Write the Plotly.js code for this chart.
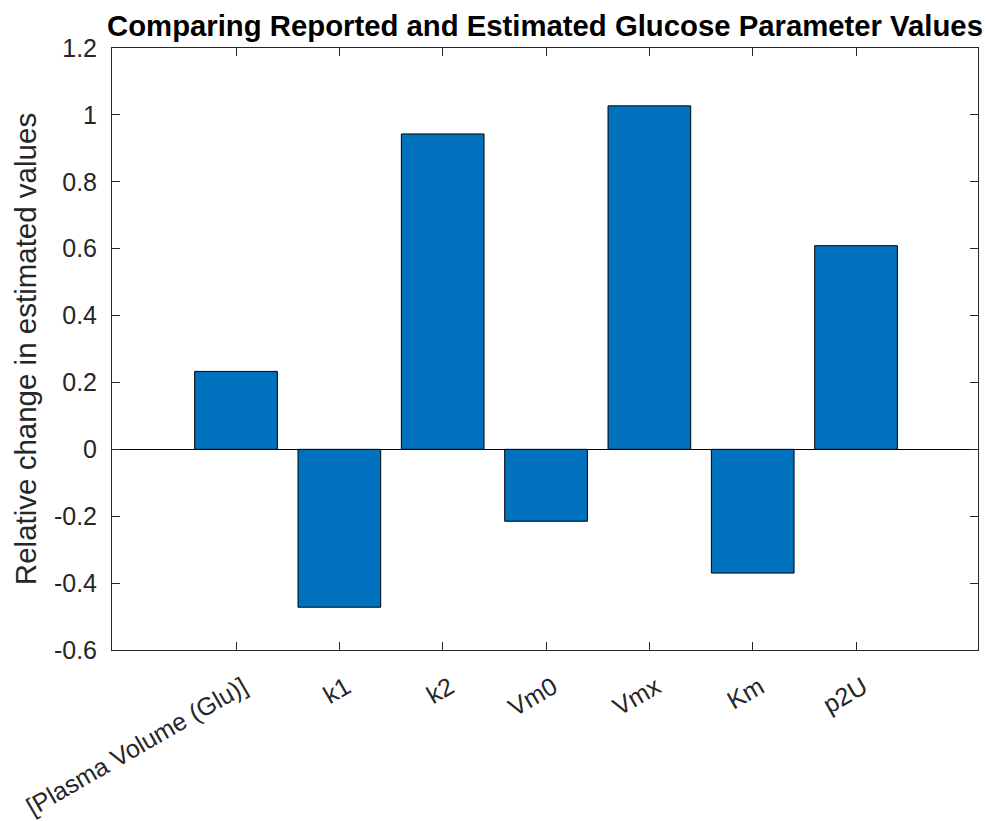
<!DOCTYPE html>
<html>
<head>
<meta charset="utf-8">
<script src="https://cdn.plot.ly/plotly-3.0.1.min.js"></script>
<style>html,body{margin:0;padding:0;background:#fff;}#chart{width:987px;height:821px;}</style>
</head>
<body>
<div id="chart"></div>
<script>
const categories = ["[Plasma Volume (Glu)]", "k1", "k2", "Vm0", "Vmx", "Km", "p2U"];
const relChange = [0.233, -0.472, 0.943, -0.215, 1.027, -0.370, 0.609];
const yTicks = [-0.6, -0.4, -0.2, 0, 0.2, 0.4, 0.6, 0.8, 1, 1.2];
const yTickText = ["-0.6", "-0.4", "-0.2", "0", "0.2", "0.4", "0.6", "0.8", "1", "1.2"];

const FONT = "Arial, 'Liberation Sans', Helvetica, sans-serif";
const AX = "#262626";

const trace = {
  type: "bar",
  x: categories,
  y: relChange,
  width: 0.8,
  marker: {color: "#0072BD", line: {color: "#000000", width: 1}},
  hoverinfo: "x+y"
};

const layout = {
  width: 987, height: 821,
  margin: {l: 112, r: 9, t: 48, b: 171},
  paper_bgcolor: "#ffffff", plot_bgcolor: "#ffffff",
  showlegend: false,
  font: {family: FONT, color: AX, size: 25},
  title: {
    text: "<b>Comparing Reported and Estimated Glucose Parameter Values</b>",
    font: {family: FONT, size: 29.3, color: "#000000"},
    x: 0.5, xref: "paper", xanchor: "center",
    y: 1 - 26/821, yref: "container", yanchor: "middle"
  },
  xaxis: {
    type: "category",
    range: [-1.2, 7.18],
    showline: true, linecolor: AX, linewidth: 1, mirror: "ticks",
    ticks: "inside", ticklen: 8, tickwidth: 1, tickcolor: AX,
    tickangle: -30,
    ticklabelstandoff: 12, ticklabelshift: 7,
    tickfont: {family: FONT, size: 25, color: AX},
    showgrid: false, zeroline: false,
    fixedrange: true
  },
  yaxis: {
    range: [-0.6, 1.2],
    tickvals: yTicks, ticktext: yTickText,
    showline: true, linecolor: AX, linewidth: 1, mirror: "ticks",
    ticks: "inside", ticklen: 8, tickwidth: 1, tickcolor: AX,
    ticklabelstandoff: 9,
    tickfont: {family: FONT, size: 25, color: AX},
    showgrid: false,
    zeroline: true, zerolinecolor: "#000000", zerolinewidth: 1,
    title: {text: "Relative change in estimated values", font: {family: FONT, size: 29.5, color: AX}, standoff: 8},
    fixedrange: true
  },
  bargap: 0.2
};

Plotly.newPlot("chart", [trace], layout, {displayModeBar: false, staticPlot: true});
</script>
</body>
</html>
